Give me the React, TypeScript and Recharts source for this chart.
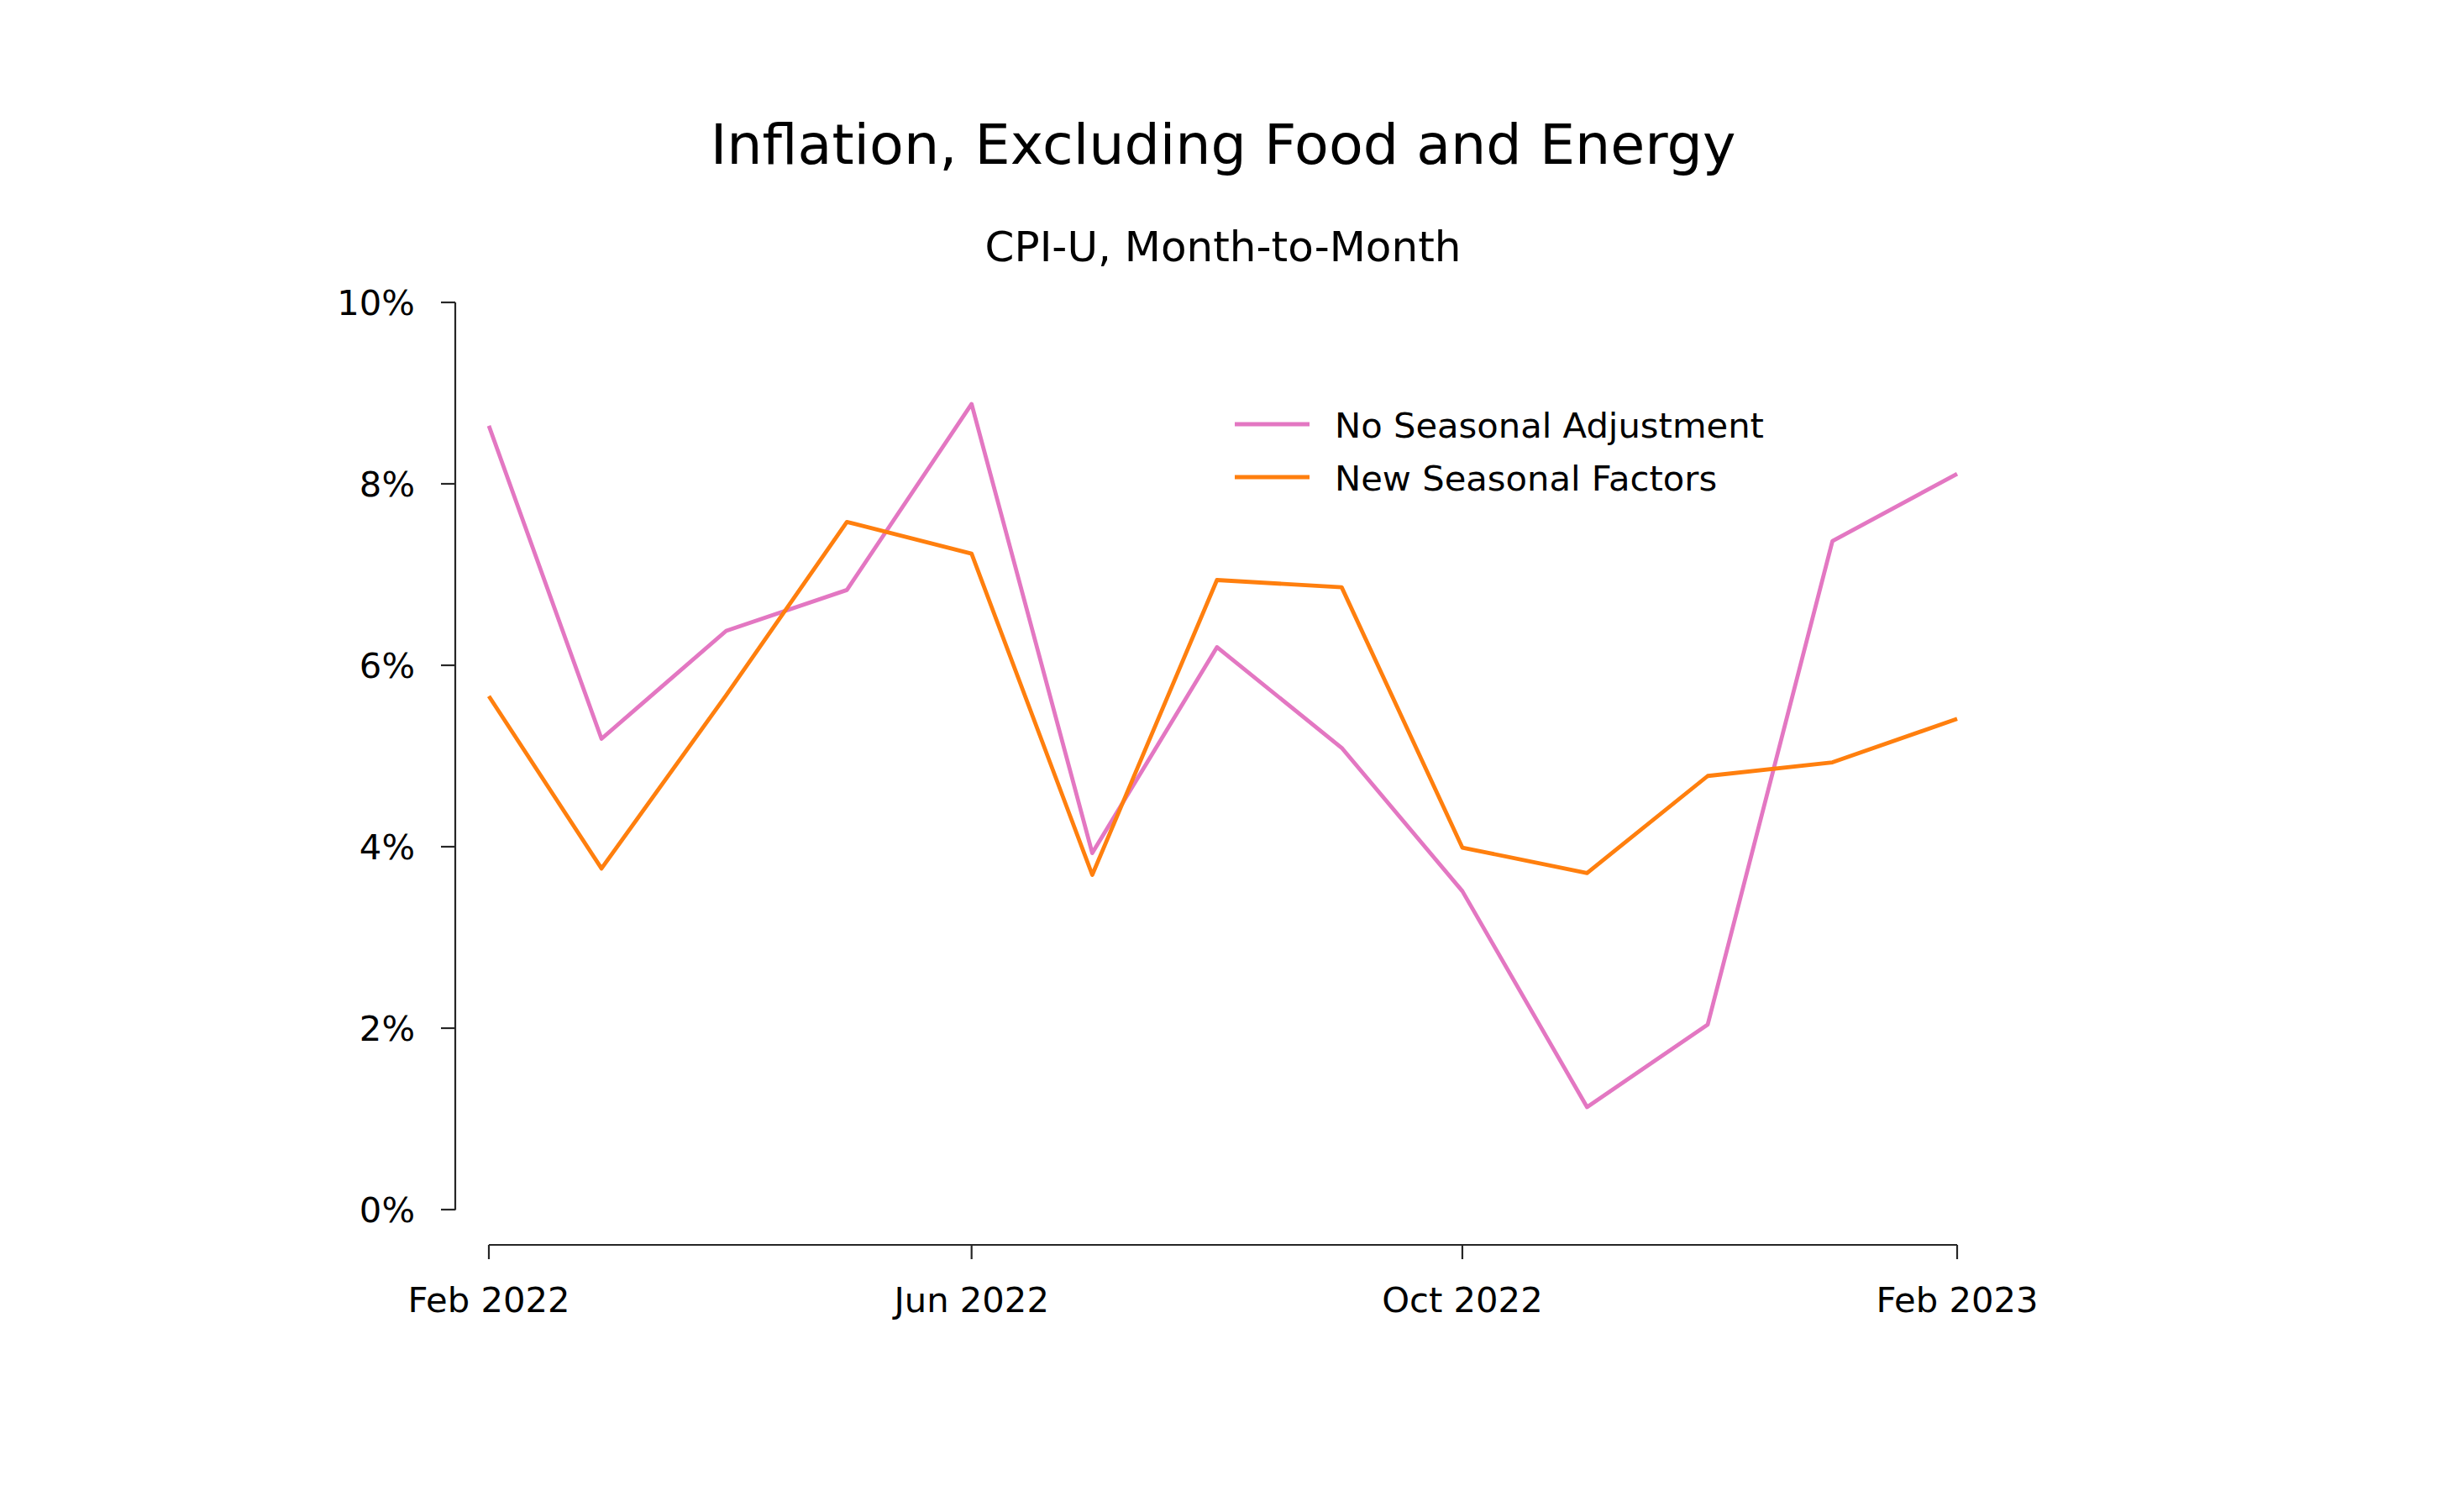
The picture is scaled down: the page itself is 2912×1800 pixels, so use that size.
import { LineChart, Line, XAxis, YAxis } from 'recharts';

const months = [
  '2022-02-01', '2022-03-01', '2022-04-01', '2022-05-01', '2022-06-01', '2022-07-01', '2022-08-01',
  '2022-09-01', '2022-10-01', '2022-11-01', '2022-12-01', '2023-01-01', '2023-02-01',
];
const noSeasonal = [8.64, 5.19, 6.38, 6.83, 8.88, 3.93, 6.2, 5.09, 3.51, 1.13, 2.04, 7.37, 8.11];
const newFactors = [5.66, 3.76, 5.67, 7.58, 7.23, 3.69, 6.94, 6.86, 3.99, 3.71, 4.78, 4.93, 5.41];

const seriesNames = ['No Seasonal Adjustment', 'New Seasonal Factors'];
const seriesColors = ['#e377c2', '#ff7f0e'];

const tickDates = ['2022-02-01', '2022-06-01', '2022-10-01', '2023-02-01'];
const tickLabels = ['Feb 2022', 'Jun 2022', 'Oct 2022', 'Feb 2023'];
const yTicks = [0, 2, 4, 6, 8, 10];

const toTime = (s: string) => Date.parse(s + 'T00:00:00Z');

const data = months.map((m, i) => ({
  t: toTime(m),
  nsa: noSeasonal[i],
  nsf: newFactors[i],
}));

const xTicks = tickDates.map(toTime);
const fmtX = (v: number) => tickLabels[xTicks.indexOf(v)] ?? '';

const FONT = 'DejaVu Sans';
const AXIS = '#262626';
const LW = 4.8;

export default function App() {
  return (
    <div style={{ position: 'absolute', left: 0, top: 0, width: 2912, height: 1800, background: '#fff' }}>
      <LineChart
        width={2912}
        height={1800}
        data={data}
        margin={{ top: 360, right: 582, bottom: 198, left: 0 }}
      >
        <XAxis
          dataKey="t"
          type="number"
          scale="time"
          domain={[xTicks[0], xTicks[xTicks.length - 1]]}
          ticks={xTicks}
          interval={0}
          tickFormatter={fmtX}
          padding={{ left: 40, right: 0 }}
          height={120}
          tickSize={17}
          tickMargin={33}
          tick={{ fill: '#000', fontSize: 41.7, fontFamily: FONT }}
          tickLine={{ stroke: AXIS, strokeWidth: 2.2 }}
          axisLine={{ stroke: AXIS, strokeWidth: 2.2, strokeDasharray: '0 40 1748 2000' }}
        />
        <YAxis
          type="number"
          domain={[0, 10]}
          ticks={yTicks}
          interval={0}
          tickFormatter={(v: number) => `${v}%`}
          width={542}
          padding={{ top: 0, bottom: 42 }}
          tickSize={17}
          tickMargin={31}
          tick={{ fill: '#000', fontSize: 41.7, fontFamily: FONT }}
          tickLine={{ stroke: AXIS, strokeWidth: 2.2 }}
          axisLine={{ stroke: AXIS, strokeWidth: 2.2, strokeDasharray: '1080.5 2000' }}
        />
        <Line
          type="linear"
          dataKey="nsa"
          name={seriesNames[0]}
          stroke={seriesColors[0]}
          strokeWidth={LW}
          strokeLinejoin="round"
          dot={false}
          activeDot={false}
          isAnimationActive={false}
        />
        <Line
          type="linear"
          dataKey="nsf"
          name={seriesNames[1]}
          stroke={seriesColors[1]}
          strokeWidth={LW}
          strokeLinejoin="round"
          dot={false}
          activeDot={false}
          isAnimationActive={false}
        />
      </LineChart>
      <svg
        width={2912}
        height={700}
        style={{ position: 'absolute', left: 0, top: 0, pointerEvents: 'none' }}
      >
        <text x={1456} y={195} textAnchor="middle" fontSize={66.7} fontFamily={FONT} fill="#000">
          Inflation, Excluding Food and Energy
        </text>
        <text x={1456} y={311} textAnchor="middle" fontSize={50} fontFamily={FONT} fill="#000">
          CPI-U, Month-to-Month
        </text>
        {seriesNames.map((name, i) => (
          <g key={name}>
            <line x1={1470} x2={1559} y1={505 + i * 63} y2={505 + i * 63} stroke={seriesColors[i]} strokeWidth={LW} />
            <text x={1589} y={521 + i * 63} fontSize={41.7} fontFamily={FONT} fill="#000">
              {name}
            </text>
          </g>
        ))}
      </svg>
    </div>
  );
}
